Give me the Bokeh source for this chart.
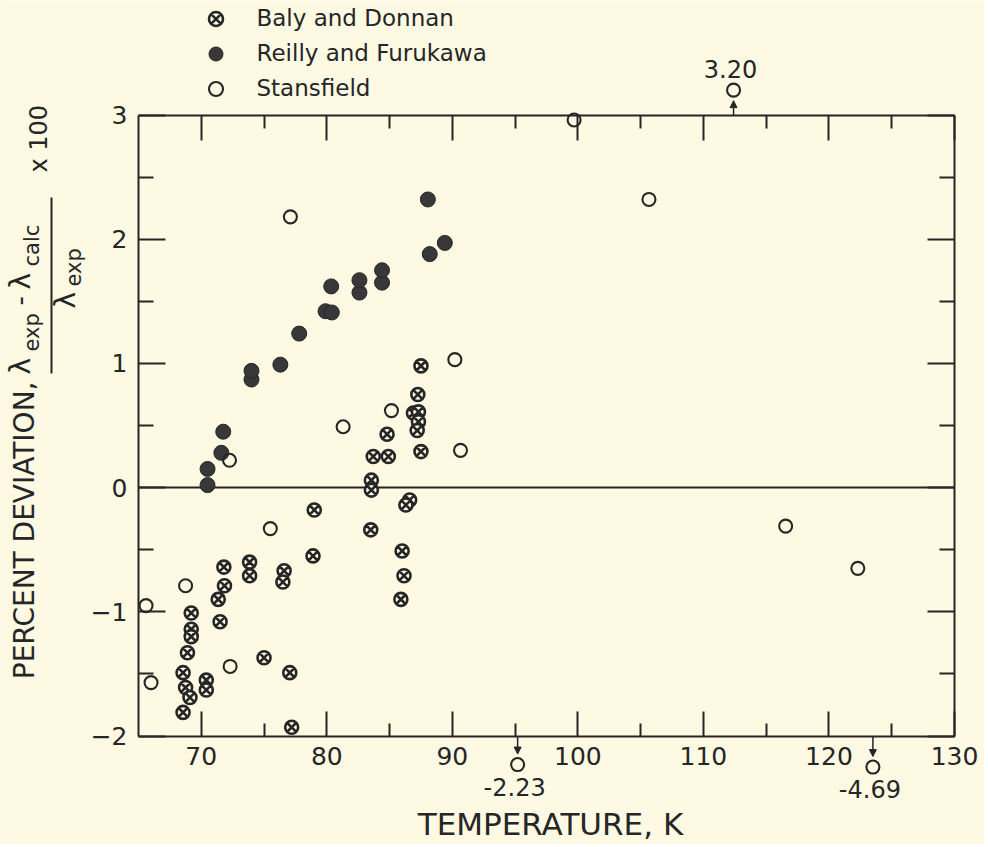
import numpy as np
from bokeh.plotting import figure
from bokeh.models import (LinearAxis, FixedTicker, CustomJSTickFormatter, Range1d,
                          Legend, LegendItem, Label, Arrow, NormalHead,
                          ColumnDataSource, BoxAnnotation)
from bokeh.embed import file_html
from bokeh.resources import INLINE

# ---------------- data ----------------
baly_T = [79.0, 78.9, 71.8, 73.85, 73.85, 76.6, 76.5, 71.85, 71.35, 69.2, 69.2, 69.2,
          71.5, 68.9, 75.0, 77.05, 68.55, 70.4, 70.4, 68.75, 69.1, 68.55, 77.2,
          87.5, 87.25, 86.9, 87.3, 87.3, 87.2, 84.8, 83.7, 84.9, 87.5, 83.55, 83.55,
          86.6, 86.3, 83.5, 86.0, 86.15, 85.9]
baly_dev = [-0.18, -0.55, -0.64, -0.60, -0.71, -0.67, -0.76, -0.79, -0.90, -1.01, -1.14, -1.20,
            -1.08, -1.33, -1.37, -1.49, -1.49, -1.55, -1.63, -1.61, -1.69, -1.81, -1.93,
            0.98, 0.75, 0.60, 0.61, 0.53, 0.46, 0.43, 0.25, 0.25, 0.29, 0.06, -0.02,
            -0.10, -0.14, -0.34, -0.51, -0.71, -0.90]

reilly_T = [70.5, 70.5, 71.6, 71.75, 74.0, 74.0, 76.3, 77.8, 79.9, 80.4, 80.35,
            82.6, 82.6, 84.4, 84.4, 88.2, 89.4, 88.05]
reilly_dev = [0.02, 0.15, 0.28, 0.45, 0.87, 0.94, 0.99, 1.24, 1.42, 1.41, 1.62,
              1.57, 1.67, 1.65, 1.75, 1.88, 1.97, 2.32]

stans_T = [65.6, 66.0, 68.75, 72.25, 72.3, 75.5, 77.1, 81.3, 85.15, 90.2, 90.65,
           99.7, 105.66, 116.55, 122.3]
stans_dev = [-0.95, -1.57, -0.79, 0.22, -1.44, -0.33, 2.18, 0.49, 0.62, 1.03, 0.30,
             2.96, 2.32, -0.31, -0.65]

# Stansfield points lying off the scale (drawn just outside the frame with arrows)
off_T = [95.2, 112.4, 123.5]
off_dev = [-2.23, 3.20, -4.69]

series_names = ["Baly and Donnan", "Reilly and Furukawa", "Stansfield"]
x_ticks = [70, 80, 90, 100, 110, 120, 130]
x_minor = [75, 85, 95, 105, 115, 125]
y_ticks = [-2, -1, 0, 1, 2, 3]
y_minor = [-1.5, -0.5, 0.5, 1.5, 2.5]
x_lo, x_hi = 65, 130
y_lo, y_hi = -2, 3

# ---------------- layout ----------------
BG = "#fdf9e3"
INK = "#262626"
FONT = "DejaVu Sans"
W, H = 984, 844
# box (axes frame) in picture pixels (canvas sits at the picture's top-left)
BL, BR, BT, BB = 138.0, 954.0, 114.5, 735.5
sx = (BR - BL) / (x_hi - x_lo)
sy = (BB - BT) / (y_hi - y_lo)
x_range = Range1d(x_lo - BL / sx, x_hi + (W - BR) / sx)
y_range = Range1d(y_lo - (H - BB) / sy, y_hi + BT / sy)

p = figure(width=W, height=H, x_range=x_range, y_range=y_range,
           output_backend="svg", toolbar_location=None,
           x_axis_location=None, y_axis_location=None, min_border=0)
p.outline_line_color = None
p.background_fill_color = BG
p.border_fill_color = BG
p.xgrid.grid_line_color = None
p.ygrid.grid_line_color = None


def make_axis(loc, ticks, minor, bounds, tick_in, minor_in, labels):
    ax = LinearAxis(fixed_location=loc, bounds=bounds,
                    ticker=FixedTicker(ticks=ticks, minor_ticks=minor))
    ax.axis_line_color = INK
    ax.axis_line_width = 2
    ax.major_tick_line_color = INK
    ax.major_tick_line_width = 2
    ax.minor_tick_line_color = INK
    ax.minor_tick_line_width = 2
    ax.major_tick_in = tick_in
    ax.major_tick_out = 0
    ax.minor_tick_in = minor_in
    ax.minor_tick_out = 0
    ax.major_label_text_font = FONT
    ax.major_label_text_font_size = "25px"
    ax.major_label_text_color = INK
    ax.major_label_standoff = 11
    if not labels:
        ax.formatter = CustomJSTickFormatter(code="return ''")
    return ax


p.add_layout(make_axis(y_lo, x_ticks, x_minor, (x_lo, x_hi), 25, 13, True), "below")
p.add_layout(make_axis(y_hi, x_ticks, x_minor, (x_lo, x_hi), 25, 13, False), "above")
p.add_layout(make_axis(x_lo, y_ticks, y_minor, (y_lo, y_hi), 27, 15, True), "left")
p.add_layout(make_axis(x_hi, y_ticks, y_minor, (y_lo, y_hi), 27, 15, False), "right")

# zero line
p.segment(x0=[x_lo], y0=[0], x1=[x_hi], y1=[0], line_color=INK, line_width=2)

r_baly = p.scatter(baly_T, baly_dev, marker="circle_x", size=13, fill_color=BG,
                   line_color=INK, line_width=2.6)
r_reilly = p.scatter(reilly_T, reilly_dev, marker="circle", size=15, fill_color="#383838",
                     line_color=INK, line_width=1)
r_stans = p.scatter(stans_T, stans_dev, marker="circle", size=13, fill_color=None,
                    line_color=INK, line_width=2.1)

# off-scale points: drawn at the frame edge with an arrow and their value
off_T_a = np.array(off_T)
off_dev_a = np.array(off_dev)
off_disp = np.clip(off_dev_a, y_lo - 0.25, y_hi + 0.25)
gap = 10.5 / sy
arr_start = np.where(off_dev_a < 0, y_lo, y_hi)
arr_end = np.where(off_dev_a < 0, off_disp + gap, off_disp - gap)
p.scatter(off_T, off_disp, marker="circle", size=13, fill_color=None,
          line_color=INK, line_width=2.1)
arrows = ColumnDataSource(dict(x=off_T, y0=arr_start, y1=arr_end))
p.add_layout(Arrow(end=NormalHead(size=7, fill_color=INK, line_color=INK, line_width=1),
                   x_start="x", y_start="y0", x_end="x", y_end="y1", source=arrows,
                   line_color=INK, line_width=1.5))
for t, v, d in zip(off_T, off_dev, off_disp):
    p.add_layout(Label(x=t, y=d, text=f"{v:.2f}", y_offset=(21 if v > 0 else -22),
                       x_offset=-3, text_align="center",
                       text_baseline="middle", text_font=FONT, text_font_size="24px",
                       text_color=INK))

# legend
legend = Legend(items=[LegendItem(label=series_names[0], renderers=[r_baly]),
                       LegendItem(label=series_names[1], renderers=[r_reilly]),
                       LegendItem(label=series_names[2], renderers=[r_stans])],
                location=(197.5, H - 0.5 - 105),
                glyph_width=35, glyph_height=35, label_standoff=24, padding=0,
                margin=0, spacing=0, border_line_color=None, background_fill_alpha=0,
                label_text_font=FONT, label_text_font_size="23px",
                label_text_color=INK)
p.add_layout(legend)


# axis titles, placed by pixel offsets from the box's lower-left corner
def at(ix, iy):
    return dict(x=x_lo, y=y_lo, x_offset=ix - BL, y_offset=BB - iy)


p.add_layout(Label(text="TEMPERATURE, K", text_align="center", text_baseline="middle",
                   text_font=FONT, text_font_size="31px", text_color=INK, **at(550, 823)))

# (text, font px, centre x, start/end y, align)
ylabel_parts = [
    ("PERCENT DEVIATION,", 28, 23.5, 381, "right"),
    ("λ", 28, 20, 374, "left"),
    ("exp", 21, 31.5, 351, "left"),
    ("-", 26, 18, 305, "left"),
    ("λ", 28, 20, 289, "left"),
    ("calc", 21, 31.5, 266, "left"),
    ("λ", 28, 65, 308, "left"),
    ("exp", 21, 73.5, 286, "left"),
    ("x 100", 24, 38.5, 172, "left"),
]
for txt, fs, cx, by, al in ylabel_parts:
    p.add_layout(Label(text=txt, angle=90, angle_units="deg", text_align=al,
                       text_baseline="middle", text_font=FONT,
                       text_font_size=f"{fs}px", text_color=INK, **at(cx, by)))


# fraction bar
def dx(ix):
    return x_lo + (ix - BL) / sx


def dy(iy):
    return y_lo + (BB - iy) / sy


p.add_layout(BoxAnnotation(left=dx(50), right=dx(52), bottom=dy(373), top=dy(197),
                           fill_color=INK, fill_alpha=1, line_color=None))

open("out.html", "w").write(file_html(p, INLINE))
